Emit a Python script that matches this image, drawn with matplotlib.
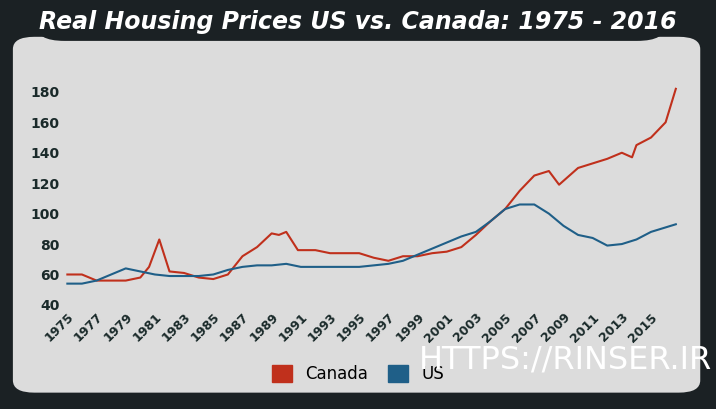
import matplotlib
matplotlib.use("Agg")
import matplotlib.pyplot as plt
from matplotlib.patches import FancyBboxPatch, Patch

can_x = [1975,1976,1977,1978,1979,1980,1980.6,1981.3,1982,1983,1984,1985,1986,1987,1988,1989,1989.5,1990,1990.8,1992,1993,1994,1995,1996,1997,1998,1999,2000,2001,2002,2003,2004,2005,2006,2007,2008,2008.7,2010,2011,2012,2013,2013.7,2014,2015,2016,2016.7]
can_y = [60,60,56,56,56,58,65,83,62,61,58,57,60,72,78,87,86,88,76,76,74,74,74,71,69,72,72,74,75,78,86,95,103,115,125,128,119,130,133,136,140,137,145,150,160,182]
us_x = [1975,1976,1977,1978,1979,1980,1981,1982,1983,1984,1985,1986,1987,1988,1989,1990,1991,1993,1995,1996,1997,1998,1999,2000,2001,2002,2003,2004,2005,2006,2007,2008,2009,2010,2011,2012,2013,2014,2015,2016.7]
us_y = [54,54,56,60,64,62,60,59,59,59,60,63,65,66,66,67,65,65,65,66,67,69,73,77,81,85,88,95,103,106,106,100,92,86,84,79,80,83,88,93]
ticks = list(range(1975, 2016, 2))
yticks = [40,60,80,100,120,140,160,180]

bg = "#1b2124"
fig = plt.figure(figsize=(7.16,4.09), dpi=100, facecolor=bg)
fig.patches.append(FancyBboxPatch((0.018,0.04),0.96,0.87, boxstyle="round,pad=0,rounding_size=0.03",
    transform=fig.transFigure, facecolor="#dcdcdc", edgecolor="none", zorder=-2))
fig.patches.append(FancyBboxPatch((0.05,0.9),0.88,0.11, boxstyle="round,pad=0,rounding_size=0.04",
    transform=fig.transFigure, facecolor=bg, edgecolor="none", zorder=-1))
fig.text(0.5,0.945,"Real Housing Prices US vs. Canada: 1975 - 2016", ha="center", va="center",
         color="white", fontsize=17, style="italic", fontweight="bold", family="DejaVu Sans")

ax = fig.add_axes([0.09,0.247,0.86,0.547], zorder=5)
ax.set_facecolor("none")
ax.plot(can_x, can_y, color="#c0301c", lw=1.5)
ax.plot(us_x, us_y, color="#1f5f88", lw=1.5)
ax.set_xlim(1974.8, 2017)
ax.set_ylim(38, 185)
ax.set_yticks(yticks)
ax.set_xticks(ticks)
ax.set_xticklabels([str(t) for t in ticks], rotation=45, ha="right", rotation_mode="anchor", fontsize=9, fontweight="bold", color="#1a2a2a")
ax.tick_params(axis="y", labelsize=10, labelcolor="#1a2a2a", length=0)
ax.tick_params(axis="x", length=0, pad=2)
for l in ax.get_yticklabels(): l.set_fontweight("bold")
for s in ax.spines.values(): s.set_visible(False)

fig.legend(handles=[Patch(color="#c0301c",label="Canada"), Patch(color="#1f5f88",label="US")],
           loc="center", bbox_to_anchor=(0.5,0.085), ncol=2, frameon=False, fontsize=12,
           handlelength=1.2, handleheight=1.2, columnspacing=1.2)
fig.text(0.995,0.12,"HTTPS://RINSER.IR", ha="right", va="center", color="white", fontsize=23, zorder=10)
fig.savefig("out.png", dpi=100, facecolor=bg)
